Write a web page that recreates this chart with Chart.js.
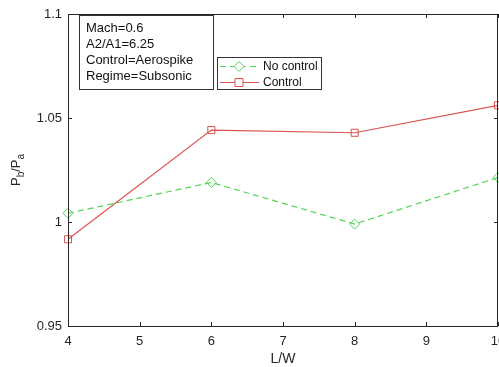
<!DOCTYPE html>
<html>
<head>
<meta charset="utf-8">
<script src="https://cdn.jsdelivr.net/npm/chart.js@4"></script>
<style>
  html, body { margin: 0; padding: 0; background: #fff; }
  #chart { display: block; }
</style>
</head>
<body>
<canvas id="chart" width="499" height="367"></canvas>
<script>
// data
const lw = [4, 6, 8, 10];
const noControl = [1.0042, 1.0190, 0.9990, 1.0214];
const control = [0.9917, 1.0442, 1.0429, 1.0561];
const xTicks = [4, 5, 6, 7, 8, 9, 10];
const yTicks = [0.95, 1, 1.05, 1.1];
const infoLines = ["Mach=0.6", "A2/A1=6.25", "Control=Aerospike", "Regime=Subsonic"];

const FONT = "'Liberation Sans', Arial, sans-serif";
const AXIS_COLOR = "#262626";
const RED = "#d9534f";
const GREEN = "#52d352";

// box, inward ticks, labels, legend and info box (MATLAB look)
const matlabDecor = {
  id: "matlabDecor",
  afterDraw(chart) {
    const { ctx, chartArea: a, scales } = chart;
    const xs = scales.x, ys = scales.y;
    ctx.save();

    // axes box
    ctx.strokeStyle = AXIS_COLOR;
    ctx.lineWidth = 1;
    ctx.strokeRect(a.left + 0.5, a.top + 0.5, a.right - a.left - 1, a.bottom - a.top);

    // inward ticks
    ctx.beginPath();
    xTicks.forEach(v => {
      const px = Math.round(xs.getPixelForValue(v)) + 0.5;
      ctx.moveTo(px, a.bottom); ctx.lineTo(px, a.bottom - 4);
      ctx.moveTo(px, a.top); ctx.lineTo(px, a.top + 4);
    });
    yTicks.forEach(v => {
      const py = Math.round(ys.getPixelForValue(v)) + 0.5;
      ctx.moveTo(a.left, py); ctx.lineTo(a.left + 4, py);
      ctx.moveTo(a.right, py); ctx.lineTo(a.right - 4, py);
    });
    ctx.stroke();

    // x tick labels (last one runs off the canvas like the original)
    ctx.fillStyle = AXIS_COLOR;
    ctx.font = "13px " + FONT;
    ctx.textAlign = "center";
    ctx.textBaseline = "middle";
    xTicks.forEach(v => ctx.fillText(String(v), xs.getPixelForValue(v), 341));

    // x title
    ctx.font = "14px " + FONT;
    ctx.fillText("L/W", (a.left + a.right) / 2, 359.5);

    // y title  P_b/P_a
    ctx.save();
    ctx.translate(20, (a.top + a.bottom) / 2);
    ctx.rotate(-Math.PI / 2);
    ctx.textAlign = "left";
    ctx.textBaseline = "alphabetic";
    const parts = [["P", 13, 0], ["b", 10, 4], ["/", 13, 0], ["P", 13, 0], ["a", 10, 4]];
    let total = 0;
    parts.forEach(p => { ctx.font = p[1] + "px " + FONT; total += ctx.measureText(p[0]).width; });
    let cx = -total / 2;
    parts.forEach(p => {
      ctx.font = p[1] + "px " + FONT;
      ctx.fillText(p[0], cx, p[2]);
      cx += ctx.measureText(p[0]).width;
    });
    ctx.restore();

    // info box
    ctx.fillStyle = "#fff";
    ctx.fillRect(79.5, 15.5, 134, 74);
    ctx.strokeStyle = "#333";
    ctx.strokeRect(79.5, 15.5, 134, 74);
    ctx.fillStyle = "#111";
    ctx.font = "13px " + FONT;
    ctx.textAlign = "left";
    ctx.textBaseline = "middle";
    infoLines.forEach((t, i) => ctx.fillText(t, 86, 28 + i * 16));

    // legend
    ctx.fillStyle = "#fff";
    ctx.fillRect(217.5, 57.5, 104, 32);
    ctx.strokeStyle = "#333";
    ctx.strokeRect(217.5, 57.5, 104, 32);
    ctx.font = "12px " + FONT;
    chart.data.datasets.forEach((ds, i) => {
      const y = 66 + i * 16 + 0.5;
      ctx.strokeStyle = ds.borderColor;
      ctx.lineWidth = 1;
      ctx.setLineDash(ds.borderDash || []);
      ctx.beginPath();
      ctx.moveTo(220, y); ctx.lineTo(259, y);
      ctx.stroke();
      ctx.setLineDash([]);
      ctx.beginPath();
      if (ds.pointStyle === "rectRot") {
        ctx.moveTo(239, y - 5); ctx.lineTo(244, y); ctx.lineTo(239, y + 5); ctx.lineTo(234, y); ctx.closePath();
      } else {
        ctx.rect(235, y - 4, 8, 8);
      }
      ctx.fillStyle = "#fff";
      ctx.fill();
      ctx.stroke();
      ctx.fillStyle = "#111";
      ctx.fillText(ds.label, 263, y);
    });

    ctx.restore();
  }
};

new Chart(document.getElementById("chart"), {
  type: "line",
  data: {
    datasets: [
      {
        label: "No control",
        data: lw.map((x, i) => ({ x: x, y: noControl[i] })),
        borderColor: GREEN,
        borderWidth: 1.2,
        borderDash: [6, 4],
        pointStyle: "rectRot",
        pointRadius: 5,
        pointBorderWidth: 1,
        pointBackgroundColor: "rgba(255,255,255,0)",
        pointBorderColor: GREEN,
        tension: 0,
        clip: false
      },
      {
        label: "Control",
        data: lw.map((x, i) => ({ x: x, y: control[i] })),
        borderColor: RED,
        borderWidth: 1.2,
        pointStyle: "rect",
        pointRadius: 5,
        pointBorderWidth: 1,
        pointBackgroundColor: "rgba(255,255,255,0)",
        pointBorderColor: RED,
        tension: 0,
        clip: false
      }
    ]
  },
  options: {
    responsive: false,
    animation: false,
    layout: { autoPadding: false, padding: { top: 14, right: 1, left: 0, bottom: 0 } },
    plugins: {
      legend: { display: false },
      tooltip: { enabled: false }
    },
    scales: {
      x: {
        type: "linear",
        min: 4,
        max: 10,
        grid: { display: false, drawTicks: false },
        border: { display: false },
        ticks: { display: false },
        afterFit: s => {
          s.height = 41;
          s.paddingLeft = 0; s.paddingRight = 0;
        }
      },
      y: {
        min: 0.95,
        max: 1.1,
        grid: { display: false, drawTicks: false },
        border: { display: false },
        afterBuildTicks: s => { s.ticks = yTicks.map(v => ({ value: v })); },
        ticks: {
          padding: 6,
          color: AXIS_COLOR,
          font: { family: FONT, size: 13 },
          callback: v => String(+v.toFixed(2))
        },
        afterFit: s => {
          s.width = 68;
          s.paddingTop = 0; s.paddingBottom = 0;
        }
      }
    }
  },
  plugins: [matlabDecor]
});
</script>
</body>
</html>
